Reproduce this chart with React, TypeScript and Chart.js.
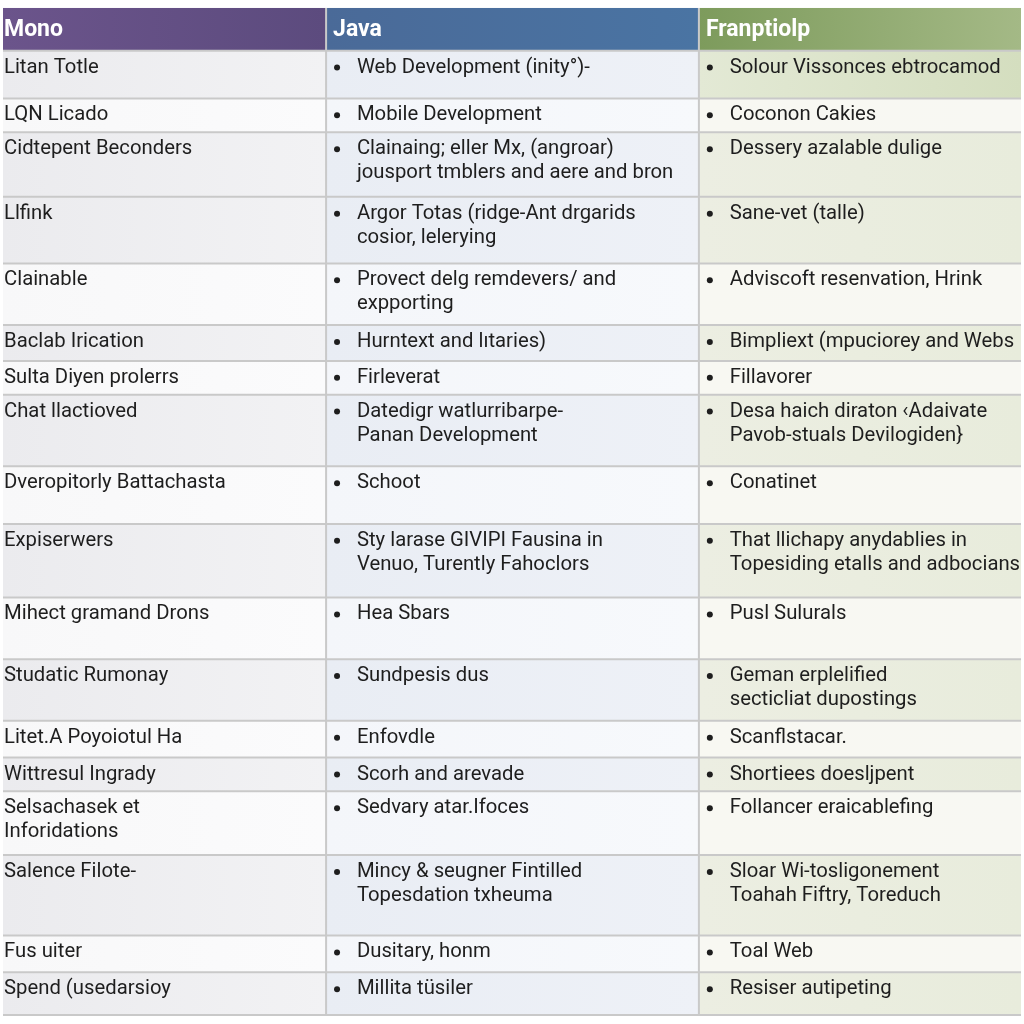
import React, { useEffect, useRef } from "react";
import { Chart, registerables } from "chart.js";

Chart.register(...registerables);

// ---- table content ----
const headers = ["Mono", "Java", "Franptiolp"];

const col1Items: string[][] = [
  ["Litan Totle"],
  ["LQN Licado"],
  ["Cidtepent Beconders"],
  ["Llfink"],
  ["Clainable"],
  ["Baclab Irication"],
  ["Sulta Diyen prolerrs"],
  ["Chat llactioved"],
  ["Dveropitorly Battachasta"],
  ["Expiserwers"],
  ["Mihect gramand Drons"],
  ["Studatic Rumonay"],
  ["Litet.A Poyoiotul Ha"],
  ["Wittresul Ingrady"],
  ["Selsachasek et", "Inforidations"],
  ["Salence Filote-"],
  ["Fus uiter"],
  ["Spend (usedarsioy"],
];

const col2Items: string[][] = [
  ["Web Development (inity\u00b0)-"],
  ["Mobile Development"],
  ["Clainaing; eller Mx, (angroar)", "jousport tmblers and aere and bron"],
  ["Argor Totas (ridge-Ant drgarids", "cosior, lelerying"],
  ["Provect delg remdevers/ and", "expporting"],
  ["Hurntext and l\u0131taries)"],
  ["Firleverat"],
  ["Datedigr watlurribarpe-", "Panan Development"],
  ["Schoot"],
  ["Sty larase GIVIPI Fausina in", "Venuo, Turently Fahoclors"],
  ["Hea Sbars"],
  ["Sundpesis dus"],
  ["Enfovdle"],
  ["Scorh and arevade"],
  ["Sedvary atar.Ifoces"],
  ["Mincy & seugner Fintilled", "Topesdation txheuma"],
  ["Dusitary, honm"],
  ["Millita t\u00fcsiler"],
];

const col3Items: string[][] = [
  ["Solour Vissonces ebtrocamod"],
  ["Coconon Cakies"],
  ["Dessery azalable dulige"],
  ["Sane-vet (talle)"],
  ["Adviscoft resenvation, Hrink"],
  ["Bimpliext (mpuciorey and Webs"],
  ["Fillavorer"],
  ["Desa haich diraton \u2039Adaivate", "Pavob-stuals Devilogiden}"],
  ["Conatinet"],
  ["That llichapy anydablies in", "Topesiding etalls and adbocians"],
  ["Pusl Sulurals"],
  ["Geman erplelified", "secticliat dupostings"],
  ["Scanflstacar."],
  ["Shortiees doesljpent"],
  ["Follancer eraicablefing"],
  ["Sloar Wi-tosligonement", "Toahah Fiftry, Toreduch"],
  ["Toal Web"],
  ["Resiser autipeting"],
];

// ---- layout (table units mapped through the chart's linear scales) ----
const tableTop = 5;
const headerHeight = 43;
const rowHeights = [48, 34, 65, 67, 62, 36, 34, 72, 58, 74, 62, 62, 37, 34, 64, 81, 37, 43];
const colWidths = [325, 375, 324];
const rowShade = [2, 0, 1, 1, 0, 1, 0, 1, 0, 1, 0, 1, 0, 1, 0, 1, 0, 1];

const FONT = "Roboto, 'Noto Sans', sans-serif";
const TEXT_SIZE = 20.3;
const LINE_H = 24;
const FIRST_LINE = 17;

const headerGrad = [
  ["#6b548b", "#5c4b7e"],
  ["#4a6a98", "#4a74a3"],
  ["#7d9b5c", "#a4b986"],
];
const cellGrad = [
  [["#f8f8f9", "#fbfbfc"], ["#ebebee", "#f2f2f4"], ["#ebebee", "#f2f2f4"]],
  [["#f4f6fa", "#f7f9fc"], ["#e9edf4", "#eef1f7"], ["#e9edf4", "#eef1f7"]],
  [["#f8f8f2", "#f8f8f3"], ["#eceee2", "#e8ecdc"], ["#e3e9d5", "#d4debf"]],
];

function rowTops(): number[] {
  const tops: number[] = [];
  let y = tableTop + headerHeight;
  for (const h of rowHeights) {
    tops.push(y);
    y += h;
  }
  return tops;
}
function colLefts(): number[] {
  const l: number[] = [];
  let x = 0;
  for (const w of colWidths) {
    l.push(x);
    x += w;
  }
  return l;
}

const tablePlugin = {
  id: "tableDraw",
  beforeDatasetsDraw(chart: any) {
    const { ctx, scales } = chart;
    const xs = scales.x;
    const ys = scales.y;
    const px = (v: number) => xs.getPixelForValue(v);
    const py = (v: number) => ys.getPixelForValue(v);
    const tops = rowTops();
    const lefts = colLefts();
    const bottom = tops[tops.length - 1] + rowHeights[rowHeights.length - 1];
    const cols = [col1Items, col2Items, col3Items];
    ctx.save();

    // header
    for (let c = 0; c < 3; c++) {
      const x0 = px(lefts[c]);
      const x1 = px(lefts[c] + colWidths[c]);
      const g = ctx.createLinearGradient(x0, 0, x1, 0);
      g.addColorStop(0, headerGrad[c][0]);
      g.addColorStop(1, headerGrad[c][1]);
      ctx.fillStyle = g;
      ctx.fillRect(x0, py(tableTop), x1 - x0, py(tableTop + headerHeight) - py(tableTop));
      ctx.fillStyle = "#ffffff";
      ctx.font = `bold 23px ${FONT}`;
      ctx.textBaseline = "middle";
      ctx.textAlign = "left";
      ctx.fillText(headers[c], x0 + (c === 0 ? 1 : 7), py(tableTop + headerHeight / 2 + 1));
    }

    // rows
    for (let r = 0; r < rowHeights.length; r++) {
      const y0 = py(tops[r]);
      const y1 = py(tops[r] + rowHeights[r]);
      for (let c = 0; c < 3; c++) {
        const x0 = px(lefts[c]);
        const x1 = px(lefts[c] + colWidths[c]);
        const g = ctx.createLinearGradient(x0, 0, x1, 0);
        const stops = cellGrad[c][rowShade[r]];
        g.addColorStop(0, stops[0]);
        g.addColorStop(1, stops[1]);
        ctx.fillStyle = g;
        ctx.fillRect(x0, y0, x1 - x0, y1 - y0);
      }
    }

    // grid lines
    ctx.strokeStyle = "#c9c9c9";
    ctx.lineWidth = 2;
    ctx.beginPath();
    for (let r = 0; r < rowHeights.length; r++) {
      const y = py(tops[r]);
      ctx.moveTo(px(0), y);
      ctx.lineTo(px(1024), y);
    }
    ctx.moveTo(px(0), py(bottom));
    ctx.lineTo(px(1024), py(bottom));
    ctx.stroke();
    ctx.beginPath();
    for (let c = 1; c < 3; c++) {
      const x = px(lefts[c]);
      ctx.moveTo(x, py(tableTop));
      ctx.lineTo(x, py(bottom));
    }
    ctx.stroke();

    // text
    ctx.fillStyle = "#1e1e1e";
    ctx.font = `${TEXT_SIZE}px ${FONT}`;
    ctx.textBaseline = "middle";
    ctx.textAlign = "left";
    for (let r = 0; r < rowHeights.length; r++) {
      for (let c = 0; c < 3; c++) {
        const lines = cols[c][r];
        const tx = lefts[c] + (c === 0 ? 1 : 31);
        lines.forEach((ln, i) => {
          ctx.fillText(ln, px(tx), py(tops[r] + FIRST_LINE + i * LINE_H));
        });
      }
    }
    ctx.restore();
  },
};

export default function App() {
  const ref = useRef<HTMLCanvasElement | null>(null);
  useEffect(() => {
    document.body.style.margin = "0";
    if (!ref.current) return;
    const tops = rowTops();
    const lefts = colLefts();
    const bullets: { x: number; y: number }[] = [];
    for (let r = 0; r < rowHeights.length; r++) {
      for (let c = 1; c < 3; c++) {
        bullets.push({ x: lefts[c] + 11, y: tops[r] + FIRST_LINE });
      }
    }
    const chart = new Chart(ref.current, {
      type: "scatter",
      data: {
        datasets: [
          {
            data: bullets,
            pointRadius: 3,
            pointHoverRadius: 3,
            backgroundColor: "#1e1e1e",
            borderColor: "#1e1e1e",
            borderWidth: 0,
          },
        ],
      },
      options: {
        animation: false,
        responsive: false,
        events: [],
        layout: { padding: 0 },
        plugins: { legend: { display: false }, tooltip: { enabled: false } },
        scales: {
          x: { type: "linear", min: 0, max: 1024, display: false },
          y: { type: "linear", min: 0, max: 1024, reverse: true, display: false },
        },
      },
      plugins: [tablePlugin],
    });
    return () => chart.destroy();
  }, []);
  return (
    <div style={{ width: 1024, height: 1024, background: "#ffffff" }}>
      <canvas ref={ref} width={1024} height={1024} style={{ display: "block" }} />
    </div>
  );
}
